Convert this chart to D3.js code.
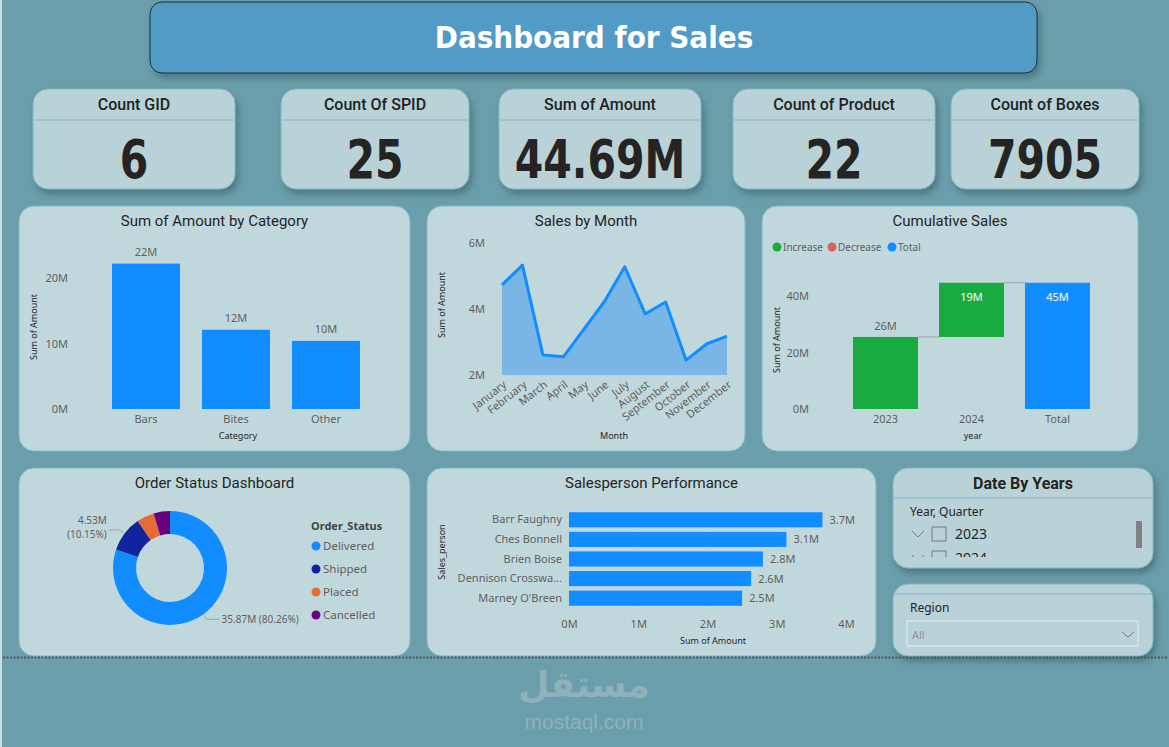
<!DOCTYPE html>
<html>
<head>
<meta charset="utf-8">
<script src="https://cdn.jsdelivr.net/npm/d3@7"></script>
<style>
  body { margin: 0; background: #6a9eaa; }
  svg { display: block; }
</style>
</head>
<body>
<svg width="1169" height="747"></svg>
<script>
// ---- data ----
const kpiTitles = ["Count GID", "Count Of SPID", "Sum of Amount", "Count of Product", "Count of Boxes"];
const kpiValues = ["6", "25", "44.69M", "22", "7905"];

const categories = ["Bars", "Bites", "Other"];
const categoryAmounts = [22.2e6, 12.1e6, 10.4e6];
const categoryTicks = [0, 10e6, 20e6];

const months = ["January", "February", "March", "April", "May", "June", "July",
    "August", "September", "October", "November", "December"];
const monthlySales = [4.73e6, 5.33e6, 2.61e6, 2.55e6, 3.38e6, 4.22e6, 5.28e6, 3.85e6, 4.21e6, 2.45e6, 2.94e6, 3.18e6];
const monthTicks = [2e6, 4e6, 6e6];

const years = ["2023", "2024"];
const yearlyIncrease = [25.5e6, 19.2e6];
const waterfallTicks = [0, 20e6, 40e6];
const waterfallLegend = ["Increase", "Decrease", "Total"];

const orderStatuses = ["Delivered", "Shipped", "Placed", "Cancelled"];
const orderAmounts = [35.87e6, 4.5342e6, 2.21e6, 2.0778e6];

const salespeople = ["Barr Faughny", "Ches Bonnell", "Brien Boise", "Dennison Crosswa...", "Marney O'Breen"];
const salesAmounts = [3.66e6, 3.14e6, 2.80e6, 2.63e6, 2.50e6];
const salesTicks = [0, 1e6, 2e6, 3e6, 4e6];

const slicerYears = ["2023", "2024"];

// ---- styles ----
const blue = "#118dff";
const green = "#1aab40";
const red = "#d9605f";
const donutColors = ["#118dff", "#12239e", "#e66c37", "#6b007b"];
const titleFont = "Roboto, 'DejaVu Sans', sans-serif";
const labelFont = "'Noto Sans', 'Open Sans', sans-serif";
const tickColor = "#605e5c";
const fmtM = d => Math.round(d / 1e6) + "M";

const svg = d3.select("svg");

const defs = svg.append("defs");
const shadow = defs.append("filter").attr("id", "shadow")
    .attr("x", "-10%").attr("y", "-10%").attr("width", "130%").attr("height", "140%");
shadow.append("feDropShadow")
    .attr("dx", 3).attr("dy", 5).attr("stdDeviation", 3)
    .attr("flood-color", "#2d4f58").attr("flood-opacity", 0.45);

// left light strip
svg.append("rect").attr("x", 0).attr("y", 0).attr("width", 2).attr("height", 747).attr("fill", "#c9dde2");

// header
svg.append("rect")
    .attr("x", 150).attr("y", 2).attr("width", 887).attr("height", 71)
    .attr("rx", 12).attr("fill", "#519bc4").attr("stroke", "#1e2f38").attr("stroke-width", 1)
    .attr("filter", "url(#shadow)");
svg.append("text")
    .attr("x", 594).attr("y", 48).attr("text-anchor", "middle")
    .style("font-family", "'DejaVu Sans Condensed', 'DejaVu Sans', sans-serif")
    .style("font-weight", "bold").style("font-size", "31px").attr("fill", "#fff")
    .text("Dashboard for Sales");

// ---- KPI cards ----
const kpiBoxes = [[33, 202], [281, 188], [499, 202], [733, 202], [951, 188]];
kpiTitles.forEach(function(t, i) {
    const [x, w] = kpiBoxes[i];
    const g = svg.append("g");
    g.append("rect").attr("x", x).attr("y", 89).attr("width", w).attr("height", 100)
        .attr("rx", 15).attr("fill", "#b9d2d8").attr("stroke", "#7fb9c8").attr("filter", "url(#shadow)");
    g.append("line").attr("x1", x + 1).attr("x2", x + w - 1).attr("y1", 120).attr("y2", 120)
        .attr("stroke", "#94c1cc").attr("stroke-width", 1.5);
    g.append("text").attr("x", x + w / 2).attr("y", 110).attr("text-anchor", "middle")
        .style("font-family", titleFont).style("font-weight", 500).style("font-size", "16px")
        .attr("fill", "#222").text(t);
    // condensed look for the big numbers
    g.append("text").attr("transform", `translate(${x + w / 2},178) scale(0.76,1)`)
        .attr("text-anchor", "middle")
        .style("font-family", "'DejaVu Sans', sans-serif")
        .style("font-weight", "bold").style("font-size", "54px")
        .attr("fill", "#252423").text(kpiValues[i]);
});

function panel(x, y, w, h, title) {
    svg.append("rect").attr("x", x).attr("y", y).attr("width", w).attr("height", h)
        .attr("rx", 15).attr("fill", "#c0d8dc").attr("stroke", "#7fb9c8").attr("stroke-width", 1);
    if (title) {
        svg.append("text").attr("x", x + w / 2).attr("y", y + 20).attr("text-anchor", "middle")
            .style("font-family", titleFont).style("font-size", "15px").attr("fill", "#252423")
            .text(title);
    }
}

function yAxisTitle(x, y, t) {
    svg.append("text").attr("transform", `translate(${x},${y}) rotate(-90)`)
        .attr("text-anchor", "middle").style("font-family", labelFont).style("font-size", "9px")
        .attr("fill", "#252423").text(t);
}

function axisStyle(g) {
    g.select(".domain").remove();
    g.selectAll(".tick line").remove();
    g.selectAll("text").style("font-family", labelFont).style("font-size", "11px").attr("fill", tickColor);
}

function grid(ticks, scale, x1, x2) {
    svg.append("g").selectAll("line").data(ticks).enter().append("line")
        .attr("x1", x1).attr("x2", x2)
        .attr("y1", d => scale(d)).attr("y2", d => scale(d))
        .attr("stroke", "#b5c9cd").attr("stroke-dasharray", "1,3");
}

// ---- Sum of Amount by Category ----
panel(19, 206, 391, 245, "Sum of Amount by Category");
{
    const x = d3.scaleBand().domain(categories).range([101, 371]).paddingInner(0.244).paddingOuter(0.122);
    const y = d3.scaleLinear().domain([0, 24e6]).range([409, 251.8]);
    grid(categoryTicks, y, 75, 400);
    svg.append("g").selectAll("rect").data(categories).enter().append("rect")
        .attr("x", d => x(d)).attr("width", x.bandwidth())
        .attr("y", (d, i) => y(categoryAmounts[i]))
        .attr("height", (d, i) => y(0) - y(categoryAmounts[i]))
        .attr("fill", blue);
    svg.append("g").selectAll("text").data(categories).enter().append("text")
        .attr("x", d => x(d) + x.bandwidth() / 2).attr("y", (d, i) => y(categoryAmounts[i]) - 8)
        .attr("text-anchor", "middle").style("font-family", labelFont).style("font-size", "11px")
        .attr("fill", tickColor).text((d, i) => fmtM(categoryAmounts[i]));
    svg.append("g").attr("transform", "translate(68,0)")
        .call(d3.axisLeft(y).tickValues(categoryTicks).tickFormat(fmtM).tickSize(0).tickPadding(0))
        .call(axisStyle);
    svg.append("g").attr("transform", "translate(0,409)")
        .call(d3.axisBottom(x).tickSize(0).tickPadding(6))
        .call(axisStyle);
    svg.append("text").attr("x", 238).attr("y", 439).attr("text-anchor", "middle")
        .style("font-family", labelFont).style("font-size", "9px").attr("fill", "#252423").text("Category");
    yAxisTitle(37, 327, "Sum of Amount");
}

// ---- Sales by Month ----
panel(427, 206, 318, 245, "Sales by Month");
{
    const x = d3.scalePoint().domain(months).range([502, 727]);
    const y = d3.scaleLinear().domain([2e6, 6e6]).range([375, 243]);
    grid(monthTicks, y, 490, 738);
    const area = d3.area().x((d, i) => x(months[i])).y0(y(2e6)).y1(d => y(d));
    const line = d3.line().x((d, i) => x(months[i])).y(d => y(d));
    svg.append("path").datum(monthlySales).attr("d", area).attr("fill", "#79b6e6");
    svg.append("path").datum(monthlySales).attr("d", line).attr("fill", "none")
        .attr("stroke", blue).attr("stroke-width", 3).attr("stroke-linejoin", "round");
    svg.append("g").attr("transform", "translate(485,0)")
        .call(d3.axisLeft(y).tickValues(monthTicks).tickFormat(fmtM).tickSize(0).tickPadding(0))
        .call(axisStyle);
    const xa = svg.append("g").attr("transform", "translate(0,380)")
        .call(d3.axisBottom(x).tickSize(0).tickPadding(0))
        .call(axisStyle);
    xa.selectAll("text").attr("text-anchor", "end").attr("dy", "0.7em")
        .attr("transform", "rotate(-38)");
    svg.append("text").attr("x", 614).attr("y", 439).attr("text-anchor", "middle")
        .style("font-family", labelFont).style("font-size", "9px").attr("fill", "#252423").text("Month");
    yAxisTitle(445, 305, "Sum of Amount");
}

// ---- Cumulative Sales (waterfall) ----
panel(762, 206, 376, 245, "Cumulative Sales");
{
    const steps = years.concat(["Total"]);
    const total = d3.sum(yearlyIncrease);
    let run = 0;
    const wf = steps.map(function(s, i) {
        if (s === "Total") return { k: s, y0: 0, y1: total, v: total, type: "Total" };
        const o = { k: s, y0: run, y1: run + yearlyIncrease[i], v: yearlyIncrease[i], type: "Increase" };
        run += yearlyIncrease[i];
        return o;
    });
    const x = d3.scaleBand().domain(steps).range([842.5, 1100.5]).paddingInner(0.244).paddingOuter(0.122);
    const y = d3.scaleLinear().domain([0, 50e6]).range([409, 267.75]);
    grid(waterfallTicks, y, 815, 1130);

    // legend
    const legColors = [green, red, blue];
    const legX = [777, 832, 892];
    waterfallLegend.forEach(function(t, i) {
        svg.append("circle").attr("cx", legX[i]).attr("cy", 247).attr("r", 4.5).attr("fill", legColors[i]);
        svg.append("text").attr("x", legX[i] + 6).attr("y", 251).style("font-family", labelFont)
            .style("font-size", "10px").attr("fill", tickColor).text(t);
    });

    // connectors
    svg.append("g").selectAll("line").data(wf.slice(0, -1)).enter().append("line")
        .attr("x1", d => x(d.k) + x.bandwidth()).attr("x2", (d, i) => x(wf[i + 1].k))
        .attr("y1", d => y(d.y1)).attr("y2", d => y(d.y1))
        .attr("stroke", "#98a4a8").attr("stroke-width", 1);
    svg.append("g").selectAll("rect").data(wf).enter().append("rect")
        .attr("x", d => x(d.k)).attr("width", x.bandwidth())
        .attr("y", d => y(d.y1)).attr("height", d => y(d.y0) - y(d.y1))
        .attr("fill", d => d.type === "Total" ? blue : green);
    svg.append("g").selectAll("text").data(wf).enter().append("text")
        .attr("x", d => x(d.k) + x.bandwidth() / 2)
        .attr("y", (d, i) => i === 0 ? y(d.y1) - 7 : y(d.y1) + 18)
        .attr("text-anchor", "middle").style("font-family", labelFont).style("font-size", "11px")
        .attr("fill", (d, i) => i === 0 ? tickColor : "#fff").text(d => fmtM(d.v));

    svg.append("g").attr("transform", "translate(809,0)")
        .call(d3.axisLeft(y).tickValues(waterfallTicks).tickFormat(fmtM).tickSize(0).tickPadding(0))
        .call(axisStyle);
    svg.append("g").attr("transform", "translate(0,409)")
        .call(d3.axisBottom(x).tickSize(0).tickPadding(6))
        .call(axisStyle);
    svg.append("text").attr("x", 973).attr("y", 439).attr("text-anchor", "middle")
        .style("font-family", labelFont).style("font-size", "9px").attr("fill", "#252423").text("year");
    yAxisTitle(780, 340, "Sum of Amount");
}

// ---- Order Status donut ----
panel(19, 468, 391, 188, "Order Status Dashboard");
{
    const cx = 170, cy = 568;
    const total = d3.sum(orderAmounts);
    const pie = d3.pie().sort(null).value(d => d);
    const arcs = pie(orderAmounts);
    const arc = d3.arc().innerRadius(34).outerRadius(57);
    const g = svg.append("g").attr("transform", `translate(${cx},${cy})`);
    g.selectAll("path").data(arcs).enter().append("path")
        .attr("d", arc).attr("fill", (d, i) => donutColors[i]);

    const pct = d3.format(".2%");
    const pt = (a, r) => [Math.sin(a) * r, -Math.cos(a) * r];
    // labels for Delivered (right) and Shipped (left)
    [0, 1].forEach(function(i) {
        const a = (arcs[i].startAngle + arcs[i].endAngle) / 2;
        const p1 = pt(a, 58), p2 = pt(a, 63);
        const left = p2[0] < 0;
        const p3 = [p2[0] + (left ? -11 : 13), p2[1]];
        g.append("polyline").attr("points", [p1, p2, p3].map(p => p.join(",")).join(" "))
            .attr("fill", "none").attr("stroke", "#9aa5a8").attr("stroke-width", 1);
        const v = (orderAmounts[i] / 1e6).toFixed(2) + "M";
        const pc = "(" + pct(orderAmounts[i] / total) + ")";
        if (left) {
            const t = g.append("text").attr("text-anchor", "end").style("font-family", labelFont)
                .style("font-size", "10px").attr("fill", tickColor);
            t.append("tspan").attr("x", p3[0] - 2).attr("y", p3[1] - 6).text(v);
            t.append("tspan").attr("x", p3[0] - 2).attr("y", p3[1] + 8).text(pc);
        } else {
            g.append("text").attr("x", p3[0] + 2).attr("y", p3[1] + 4)
                .style("font-family", labelFont).style("font-size", "10px").attr("fill", tickColor)
                .text(v + " " + pc);
        }
    });

    svg.append("text").attr("x", 311).attr("y", 530).style("font-family", labelFont)
        .style("font-weight", "bold").style("font-size", "11px").attr("fill", "#444").text("Order_Status");
    orderStatuses.forEach(function(s, i) {
        const yy = 546 + i * 23;
        svg.append("circle").attr("cx", 316).attr("cy", yy).attr("r", 4.5).attr("fill", donutColors[i]);
        svg.append("text").attr("x", 323).attr("y", yy + 4).style("font-family", labelFont)
            .style("font-size", "11.5px").attr("fill", tickColor).text(s);
    });
}

// ---- Salesperson Performance ----
panel(427, 468, 449, 188, "Salesperson Performance");
{
    const x = d3.scaleLinear().domain([0, 4e6]).range([569, 846]);
    const y = d3.scaleBand().domain(salespeople).range([510, 608]).paddingInner(0.23).paddingOuter(0.115);
    svg.append("g").selectAll("line").data(salesTicks).enter().append("line")
        .attr("x1", d => x(d)).attr("x2", d => x(d)).attr("y1", 505).attr("y2", 612)
        .attr("stroke", "#b5c9cd").attr("stroke-dasharray", "1,3");
    svg.append("g").selectAll("rect").data(salespeople).enter().append("rect")
        .attr("x", x(0)).attr("y", d => y(d)).attr("height", y.bandwidth())
        .attr("width", (d, i) => x(salesAmounts[i]) - x(0)).attr("fill", blue);
    svg.append("g").selectAll("text").data(salespeople).enter().append("text")
        .attr("x", (d, i) => x(salesAmounts[i]) + 7).attr("y", d => y(d) + y.bandwidth() / 2 + 4)
        .style("font-family", labelFont).style("font-size", "11px").attr("fill", tickColor)
        .text((d, i) => (salesAmounts[i] / 1e6).toFixed(1) + "M");
    svg.append("g").attr("transform", "translate(562,0)")
        .call(d3.axisLeft(y).tickSize(0).tickPadding(0))
        .call(axisStyle);
    svg.append("g").attr("transform", "translate(0,620)")
        .call(d3.axisBottom(x).tickValues(salesTicks).tickFormat(fmtM).tickSize(0).tickPadding(0))
        .call(axisStyle);
    svg.append("text").attr("x", 713).attr("y", 644).attr("text-anchor", "middle")
        .style("font-family", labelFont).style("font-size", "9px").attr("fill", "#252423").text("Sum of Amount");
    yAxisTitle(445, 552, "Sales_person");
}

// ---- slicers ----
{
    svg.append("rect").attr("x", 893).attr("y", 468).attr("width", 260).attr("height", 100)
        .attr("rx", 15).attr("fill", "#b9d2d8").attr("stroke", "#7fb9c8").attr("filter", "url(#shadow)");
    svg.append("text").attr("x", 1023).attr("y", 489).attr("text-anchor", "middle")
        .style("font-family", titleFont).style("font-weight", "bold").style("font-size", "16px")
        .attr("fill", "#252423").text("Date By Years");
    svg.append("line").attr("x1", 894).attr("x2", 1152).attr("y1", 498).attr("y2", 498)
        .attr("stroke", "#94c1cc").attr("stroke-width", 1.5);
    svg.append("text").attr("x", 910).attr("y", 516).style("font-family", labelFont)
        .style("font-size", "12px").attr("fill", "#252423").text("Year, Quarter");

    defs.append("clipPath").attr("id", "slicerClip").append("rect")
        .attr("x", 893).attr("y", 500).attr("width", 260).attr("height", 57);
    const rows = svg.append("g").attr("clip-path", "url(#slicerClip)");
    slicerYears.forEach(function(yr, i) {
        const yy = 534 + i * 24;
        rows.append("polyline").attr("points", `${912},${yy - 3} ${918},${yy + 3} ${924},${yy - 3}`)
            .attr("fill", "none").attr("stroke", "#777").attr("stroke-width", 1);
        rows.append("rect").attr("x", 932).attr("y", yy - 7).attr("width", 14).attr("height", 14)
            .attr("fill", "none").attr("stroke", "#6f7a7d").attr("stroke-width", 1);
        rows.append("text").attr("x", 955).attr("y", yy + 5).style("font-family", labelFont)
            .style("font-size", "14px").attr("fill", "#252423").text(yr);
    });
    svg.append("rect").attr("x", 1136).attr("y", 521).attr("width", 6).attr("height", 27).attr("fill", "#808080");

    svg.append("rect").attr("x", 893).attr("y", 584).attr("width", 260).attr("height", 72)
        .attr("rx", 15).attr("fill", "#b9d2d8").attr("stroke", "#7fb9c8").attr("filter", "url(#shadow)");
    svg.append("line").attr("x1", 894).attr("x2", 1152).attr("y1", 594).attr("y2", 594)
        .attr("stroke", "#94c1cc").attr("stroke-width", 1.5);
    svg.append("text").attr("x", 910).attr("y", 612).style("font-family", labelFont)
        .style("font-size", "12px").attr("fill", "#252423").text("Region");
    svg.append("rect").attr("x", 907).attr("y", 621).attr("width", 231).attr("height", 25)
        .attr("fill", "none").attr("stroke", "#e6eef0").attr("stroke-width", 1);
    svg.append("text").attr("x", 912).attr("y", 639).style("font-family", labelFont)
        .style("font-size", "11px").attr("fill", "#8a9396").text("All");
    svg.append("polyline").attr("points", "1122,632 1128,637 1134,632")
        .attr("fill", "none").attr("stroke", "#777").attr("stroke-width", 1);
}

// dotted separator
svg.append("line").attr("x1", 3).attr("x2", 1167).attr("y1", 657.5).attr("y2", 657.5)
    .attr("stroke", "#4f5659").attr("stroke-width", 2).attr("stroke-dasharray", "2,1.5");

// watermark
svg.append("text").attr("x", 584).attr("y", 697).attr("text-anchor", "middle")
    .style("font-family", "'DejaVu Sans', sans-serif").style("font-weight", "bold").style("font-size", "36px")
    .attr("fill", "#8fb2ba").text("مستقل");
svg.append("text").attr("x", 584).attr("y", 729).attr("text-anchor", "middle")
    .style("font-family", "'Liberation Sans', sans-serif").style("font-size", "21px")
    .attr("fill", "#8fb2ba").text("mostaql.com");
</script>
</body>
</html>
